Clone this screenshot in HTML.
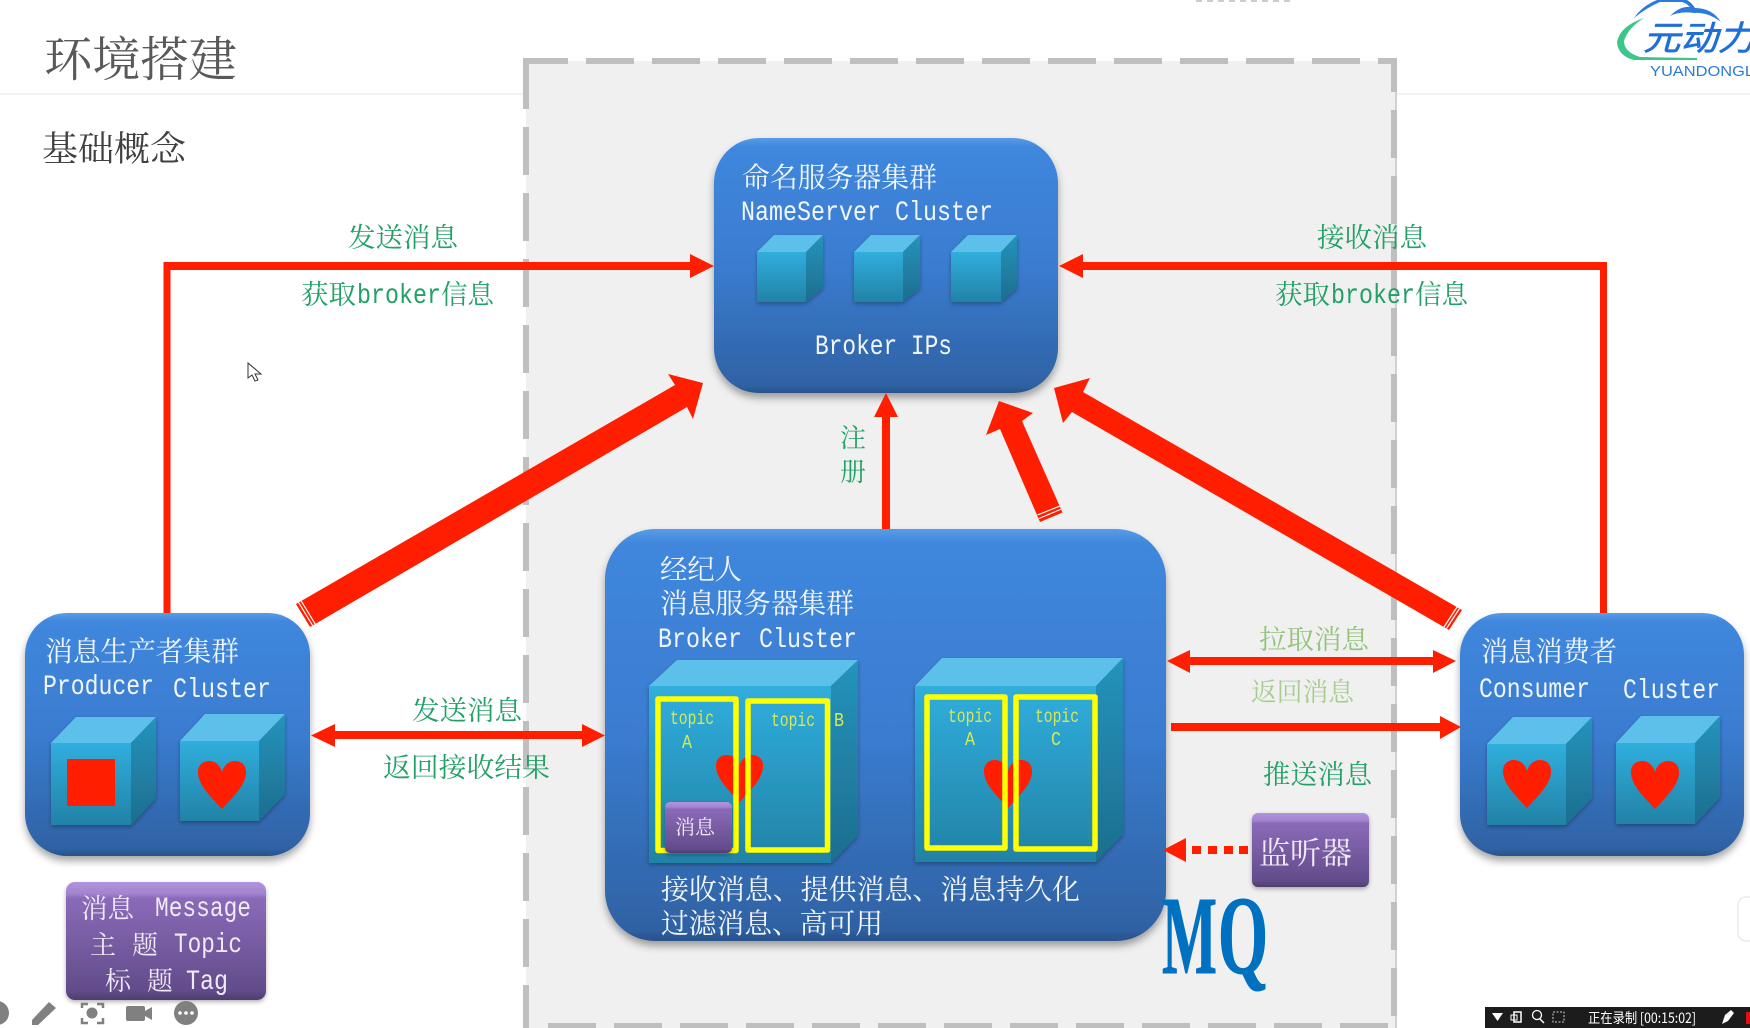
<!DOCTYPE html>
<html><head><meta charset="utf-8"><style>
html,body{margin:0;padding:0;background:#fff;width:1750px;height:1028px;overflow:hidden}
svg{display:block}
.c{font-family:"Liberation Serif","Noto Serif CJK SC",serif}
.m{font-family:"Liberation Mono",monospace}
.w{fill:#f2f6fb}
.g{fill:#22a066}
.p{fill:#f0e9f6}
.y{fill:#d4e85a}
</style></head><body>
<svg width="1750" height="1028" viewBox="0 0 1750 1028" xmlns="http://www.w3.org/2000/svg">
<defs>
<linearGradient id="bl" x1="0" y1="0" x2="0" y2="1"><stop offset="0" stop-color="#5a9be6"/><stop offset=".035" stop-color="#3f87dd"/><stop offset=".5" stop-color="#3a7cd0"/><stop offset=".97" stop-color="#2f62a4"/><stop offset="1" stop-color="#28528a"/></linearGradient>
<linearGradient id="pu" x1="0" y1="0" x2="0" y2="1"><stop offset="0" stop-color="#b094dc"/><stop offset=".1" stop-color="#a283d0"/><stop offset=".14" stop-color="#8a6ab8"/><stop offset=".92" stop-color="#624c8a"/><stop offset="1" stop-color="#4f3d70"/></linearGradient>
<linearGradient id="fr" x1="0" y1="0" x2="0" y2="1"><stop offset="0" stop-color="#30aedd"/><stop offset="1" stop-color="#2282a6"/></linearGradient>
<linearGradient id="si" x1="0" y1="0" x2="0" y2="1"><stop offset="0" stop-color="#2593bc"/><stop offset="1" stop-color="#1d6e8e"/></linearGradient>
<filter id="sh" x="-10%" y="-10%" width="120%" height="125%"><feDropShadow dx="0" dy="5" stdDeviation="4" flood-color="#000" flood-opacity=".35"/></filter>
<filter id="sc" x="-15%" y="-15%" width="130%" height="130%"><feDropShadow dx="0" dy="2" stdDeviation="2" flood-color="#000" flood-opacity=".3"/></filter>
<filter id="b" x="-200%" y="-5%" width="500%" height="110%"><feGaussianBlur stdDeviation="1.500"/></filter>
<path id="h" d="M24 48C10 33 0 23 0 11 0 3 6 0 11 0 17 0 22 4 24 11 26 4 31 0 37 0 42 0 48 3 48 11 48 23 38 33 24 48Z" fill="#ff1f00"/>
</defs>

<!-- header -->
<line x1="0" y1="94" x2="526" y2="94" stroke="#f2f2f2" stroke-width="2"/>
<line x1="1397" y1="94" x2="1750" y2="94" stroke="#f2f2f2" stroke-width="2"/>
<text class="c" x="44" y="76" font-size="48" fill="#595959" textLength="193" lengthAdjust="spacingAndGlyphs">环境搭建</text>
<text class="c" x="42" y="161" font-size="35" fill="#404040" textLength="144" lengthAdjust="spacingAndGlyphs">基础概念</text>

<!-- dashed panel -->
<rect x="526" y="61" width="870" height="967" fill="#f0f0f0"/>
<line x1="1400" y1="58" x2="1400" y2="1028" stroke="#b0b0b0" stroke-width="5" stroke-dasharray="48 18" stroke-dashoffset="11" filter="url(#b)"/>
<line x1="1396" y1="58" x2="1396" y2="1028" stroke="#c4c4c4" stroke-width="1.500"/>
<g stroke="#bfbfbf" stroke-width="6" fill="none">
<line x1="523" y1="61" x2="1397" y2="61" stroke-dasharray="48 18" stroke-dashoffset="3"/>
<line x1="526" y1="61" x2="526" y2="1028" stroke-dasharray="48 18"/>
<line x1="1394" y1="58" x2="1394" y2="1028" stroke-dasharray="48 18" stroke-dashoffset="14"/>
<line x1="548" y1="1026" x2="1390" y2="1026" stroke-dasharray="48 18"/>
</g>

<!-- boxes -->
<rect x="714" y="138" width="344" height="255" rx="45" fill="url(#bl)" filter="url(#sh)"/>
<rect x="605" y="529" width="561" height="412" rx="50" fill="url(#bl)" filter="url(#sh)"/>
<rect x="25" y="613" width="285" height="243" rx="42" fill="url(#bl)" filter="url(#sh)"/>
<rect x="1460" y="613" width="284" height="243" rx="42" fill="url(#bl)" filter="url(#sh)"/>
<rect x="66" y="882" width="200" height="118" rx="9" fill="url(#pu)" filter="url(#sc)"/>
<rect x="1252" y="813" width="117" height="74" rx="6" fill="url(#pu)" filter="url(#sc)"/>

<!-- nameserver cubes -->
<g filter="url(#sc)">
<polygon points="757,252 774,235 823,235 806,252" fill="#5bc0ea"/><rect x="757" y="252" width="49" height="50" fill="url(#fr)"/><polygon points="806,252 823,235 823,288 806,302" fill="url(#si)"/>
<polygon points="854,252 871,235 920,235 903,252" fill="#5bc0ea"/><rect x="854" y="252" width="49" height="50" fill="url(#fr)"/><polygon points="903,252 920,235 920,288 903,302" fill="url(#si)"/>
<polygon points="951,252 968,235 1017,235 1001,252" fill="#5bc0ea"/><rect x="951" y="252" width="50" height="50" fill="url(#fr)"/><polygon points="1001,252 1017,235 1017,288 1001,302" fill="url(#si)"/>
</g>

<!-- producer cubes -->
<g filter="url(#sc)">
<polygon points="51,743 76,717 156,717 131,743" fill="#5bc0ea"/><rect x="51" y="743" width="80" height="82" fill="url(#fr)"/><polygon points="131,743 156,717 156,798 131,825" fill="url(#si)"/>
<polygon points="180,741 205,714 285,714 259,741" fill="#5bc0ea"/><rect x="180" y="741" width="79" height="80" fill="url(#fr)"/><polygon points="259,741 285,714 285,794 259,821" fill="url(#si)"/>
</g>
<rect x="67" y="759" width="48" height="47" fill="#ff1f00"/>
<use href="#h" transform="translate(198,761)"/>

<!-- consumer cubes -->
<g filter="url(#sc)">
<polygon points="1487,744 1513,717 1592,717 1566,744" fill="#5bc0ea"/><rect x="1487" y="744" width="79" height="81" fill="url(#fr)"/><polygon points="1566,744 1592,717 1592,798 1566,825" fill="url(#si)"/>
<polygon points="1616,743 1641,716 1720,716 1695,743" fill="#5bc0ea"/><rect x="1616" y="743" width="79" height="81" fill="url(#fr)"/><polygon points="1695,743 1720,716 1720,797 1695,824" fill="url(#si)"/>
</g>
<use href="#h" transform="translate(1503,760)"/>
<use href="#h" transform="translate(1631,761)"/>

<!-- broker cubes -->
<g filter="url(#sc)">
<polygon points="649,686 677,660 858,660 831,686" fill="#5bc0ea"/><rect x="649" y="686" width="182" height="177" fill="url(#fr)"/><polygon points="831,686 858,660 858,835 831,863" fill="url(#si)"/>
<polygon points="915,686 942,658 1123,658 1096,686" fill="#5bc0ea"/><rect x="915" y="686" width="181" height="176" fill="url(#fr)"/><polygon points="1096,686 1123,658 1123,834 1096,862" fill="url(#si)"/>
</g>
<use href="#h" transform="translate(716,755) scale(.98,.98)"/>
<use href="#h" transform="translate(984,760)"/>
<g fill="none" stroke="#ffff00" stroke-width="5.500" stroke-linejoin="round">
<rect x="658" y="699" width="78" height="151.500"/>
<rect x="748" y="701" width="79.500" height="149"/>
<rect x="927" y="697" width="78" height="151"/>
<rect x="1016" y="697" width="79" height="152"/>
</g>
<rect x="665" y="802" width="67" height="51" rx="5" fill="url(#pu)" filter="url(#sc)"/>

<!-- thin arrows -->
<g fill="#ff1f00">
<rect x="163.500" y="262" width="7" height="351"/>
<rect x="163.500" y="262" width="530" height="8"/>
<polygon points="690,254 714,266 690,278"/>
<rect x="1600" y="262" width="7" height="351"/>
<rect x="1080" y="262" width="527" height="8"/>
<polygon points="1083,254 1059,266 1083,278"/>
<rect x="882" y="414" width="8" height="115"/>
<polygon points="874,417 886,393 898,417"/>
<rect x="330" y="731" width="255" height="8"/>
<polygon points="335,724 311,735.500 335,747"/>
<polygon points="582,724 605,735.500 582,747"/>
<rect x="1185" y="657" width="250" height="8"/>
<polygon points="1190,650 1167,661 1190,673"/>
<polygon points="1433,650 1456,661 1433,673"/>
<rect x="1171" y="723" width="272" height="8"/>
<polygon points="1440,716 1461,727 1440,739"/>
<polygon points="1186,838 1163,850 1186,862"/>
<rect x="1192" y="846" width="9" height="8"/><rect x="1208" y="846" width="9" height="8"/><rect x="1224" y="846" width="9" height="8"/><rect x="1239" y="846" width="9" height="8"/>
<!-- thick arrows -->
<polygon points="296,604 675,385 668,374 703,383 693,419 687,407 310,627"/>
<polygon points="1462,610 1083,392 1090,378 1054,388 1063,423 1072,412 1449,630"/>
<polygon points="1022,421 1033,413 999,401 986,435 1000,429 1040,522 1062.500,512.500"/>
</g>
<g stroke="#fff" stroke-width="1.200">
<line x1="298.600" y1="602.500" x2="312.600" y2="625.500"/><line x1="301.200" y1="601" x2="315.200" y2="624"/>
<line x1="1459.500" y1="608.500" x2="1446.500" y2="628.500"/><line x1="1457" y1="607" x2="1444" y2="627"/>
<line x1="1037.500" y1="515" x2="1060" y2="506"/><line x1="1039" y1="518.500" x2="1061.500" y2="509"/>
</g>

<!-- box text -->
<text class="c w" x="742" y="187" font-size="28" textLength="195" lengthAdjust="spacingAndGlyphs">命名服务器集群</text>
<text class="m w" x="741" y="220" font-size="28" textLength="252" lengthAdjust="spacingAndGlyphs">NameServer Cluster</text>
<text class="m w" x="815" y="354" font-size="28" textLength="137" lengthAdjust="spacingAndGlyphs">Broker IPs</text>

<text class="c w" x="45" y="661" font-size="28" textLength="194" lengthAdjust="spacingAndGlyphs">消息生产者集群</text>
<text class="m w" x="43" y="694" font-size="28" textLength="111" lengthAdjust="spacingAndGlyphs">Producer</text>
<text class="m w" x="173" y="697" font-size="28" textLength="98" lengthAdjust="spacingAndGlyphs">Cluster</text>

<text class="c w" x="1481" y="661" font-size="28" textLength="136" lengthAdjust="spacingAndGlyphs">消息消费者</text>
<text class="m w" x="1479" y="697" font-size="28" textLength="111" lengthAdjust="spacingAndGlyphs">Consumer</text>
<text class="m w" x="1623" y="698" font-size="28" textLength="97" lengthAdjust="spacingAndGlyphs">Cluster</text>

<text class="c w" x="660" y="579" font-size="28" textLength="82" lengthAdjust="spacingAndGlyphs">经纪人</text>
<text class="c w" x="660" y="613" font-size="28" textLength="194" lengthAdjust="spacingAndGlyphs">消息服务器集群</text>
<text class="m w" x="658" y="647" font-size="28" textLength="84" lengthAdjust="spacingAndGlyphs">Broker</text>
<text class="m w" x="759" y="647" font-size="28" textLength="98" lengthAdjust="spacingAndGlyphs">Cluster</text>
<text class="c w" x="661" y="899" font-size="28" textLength="419" lengthAdjust="spacingAndGlyphs">接收消息、提供消息、消息持久化</text>
<text class="c w" x="661" y="933" font-size="28" textLength="222" lengthAdjust="spacingAndGlyphs">过滤消息、高可用</text>

<text class="m y" x="670" y="724" font-size="19" textLength="44" lengthAdjust="spacingAndGlyphs">topic</text>
<text class="m y" x="682" y="748" font-size="19" textLength="10" lengthAdjust="spacingAndGlyphs">A</text>
<text class="m y" x="771" y="726" font-size="19" textLength="44" lengthAdjust="spacingAndGlyphs">topic</text>
<text class="m y" x="834" y="726" font-size="19" textLength="10" lengthAdjust="spacingAndGlyphs">B</text>
<text class="m y" x="948" y="722" font-size="19" textLength="44" lengthAdjust="spacingAndGlyphs">topic</text>
<text class="m y" x="965" y="745" font-size="19" textLength="10" lengthAdjust="spacingAndGlyphs">A</text>
<text class="m y" x="1035" y="722" font-size="19" textLength="44" lengthAdjust="spacingAndGlyphs">topic</text>
<text class="m y" x="1051" y="745" font-size="19" textLength="10" lengthAdjust="spacingAndGlyphs">C</text>

<text class="c p" x="675" y="834" font-size="20" textLength="40" lengthAdjust="spacingAndGlyphs">消息</text>
<text class="c p" x="1259" y="864" font-size="31" textLength="93" lengthAdjust="spacingAndGlyphs">监听器</text>

<text class="c p" x="81" y="918" font-size="27" textLength="53" lengthAdjust="spacingAndGlyphs">消息</text>
<text class="m p" x="155" y="916" font-size="28" textLength="96" lengthAdjust="spacingAndGlyphs">Message</text>
<text class="c p" x="90" y="954" font-size="26">主</text>
<text class="c p" x="132" y="954" font-size="26">题</text>
<text class="m p" x="174" y="952" font-size="28" textLength="68" lengthAdjust="spacingAndGlyphs">Topic</text>
<text class="c p" x="105" y="990" font-size="26">标</text>
<text class="c p" x="147" y="990" font-size="26">题</text>
<text class="m p" x="186" y="989" font-size="28" textLength="42" lengthAdjust="spacingAndGlyphs">Tag</text>

<!-- green labels -->
<text class="c g" x="348" y="247" font-size="27" textLength="110" lengthAdjust="spacingAndGlyphs">发送消息</text>
<text class="c g" x="301" y="304" font-size="27" textLength="55" lengthAdjust="spacingAndGlyphs">获取</text>
<text class="m g" x="357" y="303" font-size="28" textLength="84" lengthAdjust="spacingAndGlyphs">broker</text>
<text class="c g" x="441" y="304" font-size="27" textLength="53" lengthAdjust="spacingAndGlyphs">信息</text>
<text class="c g" x="1317" y="247" font-size="27" textLength="110" lengthAdjust="spacingAndGlyphs">接收消息</text>
<text class="c g" x="1275" y="304" font-size="27" textLength="55" lengthAdjust="spacingAndGlyphs">获取</text>
<text class="m g" x="1331" y="303" font-size="28" textLength="84" lengthAdjust="spacingAndGlyphs">broker</text>
<text class="c g" x="1415" y="304" font-size="27" textLength="53" lengthAdjust="spacingAndGlyphs">信息</text>
<text class="c g" x="840" y="447" font-size="26">注</text>
<text class="c g" x="840" y="481" font-size="26">册</text>
<text class="c g" x="412" y="720" font-size="27" textLength="110" lengthAdjust="spacingAndGlyphs">发送消息</text>
<text class="c g" x="383" y="777" font-size="27" textLength="167" lengthAdjust="spacingAndGlyphs">返回接收结果</text>
<text class="c" fill="#92c47a" x="1259" y="649" font-size="27" textLength="110" lengthAdjust="spacingAndGlyphs">拉取消息</text>
<text class="c" fill="#a8cc90" x="1251" y="701" font-size="26" textLength="103" lengthAdjust="spacingAndGlyphs">返回消息</text>
<text class="c g" x="1263" y="784" font-size="27" textLength="109" lengthAdjust="spacingAndGlyphs">推送消息</text>

<text x="1162" y="973" font-family="Liberation Serif,serif" font-weight="bold" font-size="111" fill="#0070c0" stroke="#0070c0" stroke-width="1" textLength="55" lengthAdjust="spacingAndGlyphs">M</text>
<text x="1218" y="973" font-family="Liberation Serif,serif" font-weight="bold" font-size="111" fill="#0070c0" stroke="#0070c0" stroke-width="1" textLength="50" lengthAdjust="spacingAndGlyphs">Q</text>

<!-- logo -->
<path d="M1634 18Q1642 6 1657 0L1687 0Q1692 3 1695 8Q1712 8 1721 22Q1708 12 1694 13Q1680 11 1670 16Q1680 6 1690 7Q1686 3 1682 2L1660 2Q1646 8 1634 18Z" fill="#2a7be0"/>
<path d="M1644 18Q1620 26 1617 42Q1618 56 1634 60L1697 60L1697 58L1640 57Q1624 52 1624 41Q1628 28 1644 18Z" fill="#3cc68a"/>
<text x="1643" y="50" font-family="Noto Sans CJK SC,sans-serif" font-style="italic" font-size="34" fill="#1f6fd8" stroke="#1f6fd8" stroke-width=".6" textLength="112" lengthAdjust="spacingAndGlyphs">元动力</text>
<text x="1650" y="76" font-family="Liberation Sans,sans-serif" font-size="15" fill="#2b7ad6" textLength="104" lengthAdjust="spacingAndGlyphs">YUANDONGL</text>
<line x1="1196" y1="1" x2="1291" y2="1" stroke="#ccc" stroke-width="2" stroke-dasharray="6 5"/>

<!-- cursor -->
<path d="M248 363V378L252 375L255 381L258 380L255 374L261 374Z" fill="#fff" stroke="#333" stroke-width="1"/>

<!-- bottom-left toolbar -->
<g fill="#808080">
<circle cx="-3" cy="1013" r="12"/>
<polygon points="32,1020 49,1002 56,1008 38,1025 32,1025"/>
<g fill="none" stroke="#808080" stroke-width="2.500"><path d="M82 1008V1004H88M97 1004H103V1008M103 1018V1023H97M88 1023H82V1018"/></g>
<circle cx="92" cy="1013" r="5.500"/>
<rect x="126" y="1006" width="19" height="15" rx="2"/>
<polygon points="145,1011 152,1007 152,1020 145,1016"/>
<circle cx="186" cy="1013" r="12"/>
</g>
<g fill="#fff"><circle cx="180" cy="1013" r="1.800"/><circle cx="186" cy="1013" r="1.800"/><circle cx="192" cy="1013" r="1.800"/></g>

<!-- right edge tab -->
<rect x="1738" y="897" width="30" height="44" rx="8" fill="#fff" stroke="#e2e2e2"/>

<!-- recording bar -->
<rect x="1485" y="1007" width="265" height="21" fill="#1c1c1c"/>
<polygon points="1492,1013 1503,1013 1497.500,1021" fill="#fff"/>
<rect x="1514" y="1012" width="7" height="10" fill="none" stroke="#fff" stroke-width="1.500"/>
<rect x="1511" y="1015" width="6" height="5" fill="none" stroke="#fff"/>
<circle cx="1537" cy="1015" r="4.500" fill="none" stroke="#fff" stroke-width="1.300"/>
<line x1="1540" y1="1019" x2="1544" y2="1023" stroke="#fff" stroke-width="1.500"/>
<rect x="1553" y="1012" width="11" height="10" fill="none" stroke="#ccc" stroke-dasharray="2 1.500"/>
<text x="1588" y="1023" font-family="Noto Sans CJK SC,sans-serif" font-size="14" fill="#fff" textLength="108" lengthAdjust="spacingAndGlyphs">正在录制 [00:15:02]</text>
<polygon points="1722,1024 1725,1015 1731,1010 1734,1013 1728,1021" fill="#fff"/>
<rect x="1746" y="1012" width="4" height="12" fill="#e01010"/>
</svg>
</body></html>
